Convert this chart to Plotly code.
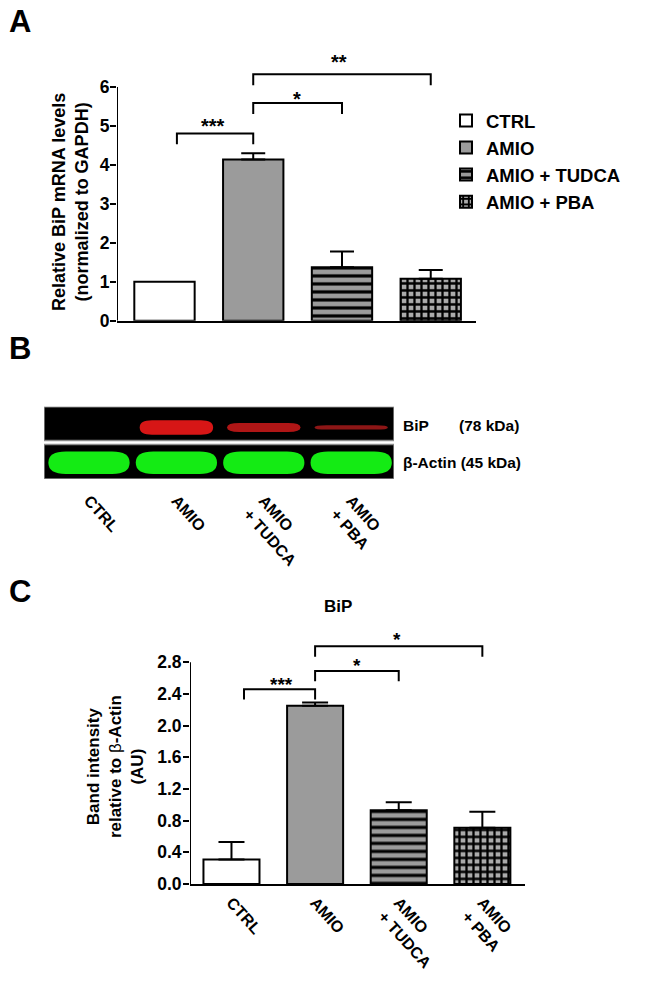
import plotly.graph_objects as go

# ---------------- data ----------------
groups = ["CTRL", "AMIO", "AMIO + TUDCA", "AMIO + PBA"]
tick_labels = ["CTRL", "AMIO", "AMIO<br>+ TUDCA", "AMIO<br>+ PBA"]
positions = [0, 1, 2, 3]

mrna_mean = [1.00, 4.14, 1.37, 1.08]
mrna_err = [0.00, 0.16, 0.41, 0.22]
mrna_yticks = [0, 1, 2, 3, 4, 5, 6]

band_mean = [0.31, 2.25, 0.93, 0.71]
band_err = [0.22, 0.04, 0.10, 0.20]
band_yticks = [0.0, 0.4, 0.8, 1.2, 1.6, 2.0, 2.4, 2.8]
band_yticktext = ["0.0", "0.4", "0.8", "1.2", "1.6", "2.0", "2.4", "2.8"]

# western blot band signal (relative)
bip_band = [0.0, 1.0, 0.62, 0.30]
actin_band = [1.0, 1.0, 1.0, 1.0]

# significance brackets: (from, to, bracket height, label x, label y, label)
mrna_sig = [(0.14, 1.0, 4.81, 0.55, 5.11, "***"),
            (1.0, 2.0, 5.59, 1.49, 5.80, "*"),
            (1.0, 3.0, 6.33, 1.97, 6.76, "**")]
band_sig = [(0.15, 1.0, 2.46, 0.60, 2.575, "***"),
            (1.0, 2.0, 2.69, 1.50, 2.81, "*"),
            (1.0, 3.0, 3.00, 1.98, 3.14, "*")]

# ---------------- styles ----------------
W, H = 656, 984
FONT = "Liberation Sans, Arial, sans-serif"
fills = ["white", "#9b9b9b", "#9b9b9b", "#ababab"]
pshapes = ["", "", "-", "+"]
psizes = [6, 6, 8, 7]
psolid = [0.3, 0.3, 0.4, 0.55]


def fx(px):
    return px / W


def fy(py):
    return 1 - py / H


fig = go.Figure()

# panel A bars
for i, g in enumerate(groups):
    fig.add_trace(go.Bar(
        x=[positions[i]], y=[mrna_mean[i]], name=g, width=0.68,
        xaxis="x", yaxis="y", legendgroup=g,
        marker=dict(color=fills[i], line=dict(color="black", width=2),
                    pattern=dict(shape=pshapes[i], fgcolor="black", bgcolor=fills[i],
                                 size=psizes[i], solidity=psolid[i], fillmode="replace")),
        error_y=dict(type="data", symmetric=False, array=[mrna_err[i]], arrayminus=[0],
                     color="black", thickness=2, width=12, visible=mrna_err[i] > 0),
        hoverinfo="skip",
    ))

# panel C bars
for i, g in enumerate(groups):
    fig.add_trace(go.Bar(
        x=[positions[i]], y=[band_mean[i]], name=g, width=0.67, showlegend=False,
        xaxis="x3", yaxis="y3",
        marker=dict(color=fills[i], line=dict(color="black", width=2),
                    pattern=dict(shape=pshapes[i], fgcolor="black", bgcolor=fills[i],
                                 size=psizes[i], solidity=psolid[i], fillmode="replace")),
        error_y=dict(type="data", symmetric=False, array=[band_err[i]], arrayminus=[0],
                     color="black", thickness=2, width=13),
        hoverinfo="skip",
    ))

annotations = []
shapes = []


def add_brackets(sig, leg, xa, ya, fsize):
    for (x0, x1, yt, lx, ly, lab) in sig:
        fig.add_trace(go.Scatter(
            x=[x0, x0, x1, x1], y=[yt - leg, yt, yt, yt - leg], mode="lines",
            line=dict(color="black", width=2), xaxis=xa, yaxis=ya,
            showlegend=False, hoverinfo="skip", cliponaxis=False))
        annotations.append(dict(x=lx, y=ly, xref=xa, yref=ya, text=lab,
                                showarrow=False, yanchor="middle", yshift=-0.23 * fsize,
                                font=dict(family=FONT, size=fsize, color="black", weight="bold")))


add_brackets(mrna_sig, 0.28, "x", "y", 20)
add_brackets(band_sig, 0.13, "x3", "y3", 19)

# ----- axes -----
a_xr = [-0.535, 3.51]
a_yr = [0, 6.8]
c_xr = [-0.496, 3.51]
c_yr = [0, 3.29]
b_xr = [-0.515, 3.49]
b_yr = [0, 2.0]

tickfont = dict(family=FONT, size=17.5, color="black", weight="bold")
lanefont = dict(family=FONT, size=16, color="black", weight="bold")

layout = dict(
    width=W, height=H, margin=dict(l=0, r=0, t=0, b=0),
    paper_bgcolor="white", plot_bgcolor="rgba(0,0,0,0)",
    barmode="overlay", font=dict(family=FONT, color="black"),
    xaxis=dict(domain=[fx(117), fx(476)], range=a_xr, showgrid=False, zeroline=False,
               showline=True, linecolor="black", linewidth=2, showticklabels=False,
               ticks="", anchor="y", fixedrange=True),
    yaxis=dict(domain=[fy(324), fy(56.5)], range=a_yr, showgrid=False, zeroline=False,
               showline=False, tickmode="array", tickvals=mrna_yticks, ticks="outside",
               ticklen=6, tickwidth=2, tickcolor="black", tickfont=tickfont,
               ticklabelstandoff=-3, anchor="x", fixedrange=True),
    xaxis2=dict(domain=[fx(44), fx(394)], range=b_xr, showgrid=False, zeroline=False,
                showline=False, tickmode="array", tickvals=positions, ticktext=tick_labels,
                tickangle=48, ticks="", tickfont=lanefont,
                ticklabelstandoff=8, anchor="y2", fixedrange=True),
    yaxis2=dict(domain=[fy(484), fy(411)], range=b_yr, visible=False, anchor="x2", fixedrange=True),
    xaxis3=dict(domain=[fx(190), fx(525)], range=c_xr, showgrid=False, zeroline=False,
                showline=True, linecolor="black", linewidth=2, tickmode="array",
                tickvals=positions, ticktext=tick_labels, tickangle=48, ticks="",
                tickfont=lanefont, ticklabelstandoff=1, anchor="y3", fixedrange=True),
    yaxis3=dict(domain=[fy(893), fy(629.8)], range=c_yr, showgrid=False, zeroline=False,
                showline=False, tickmode="array", tickvals=band_yticks, ticktext=band_yticktext,
                ticks="outside", ticklen=6, tickwidth=2, tickcolor="black", tickfont=tickfont,
                ticklabelstandoff=-2, anchor="x3", fixedrange=True),
    legend=dict(x=fx(446), y=fy(103), xanchor="left", yanchor="top",
                font=dict(family=FONT, size=18.5, color="black", weight="bold"),
                traceorder="grouped", tracegroupgap=0, itemwidth=30, bgcolor="rgba(0,0,0,0)"),
    showlegend=True,
)

# y axis lines stopping at top tick
shapes.append(dict(type="line", xref="x", yref="y", x0=a_xr[0], x1=a_xr[0], y0=0, y1=mrna_yticks[-1],
                   line=dict(color="black", width=2)))
shapes.append(dict(type="line", xref="x3", yref="y3", x0=c_xr[0], x1=c_xr[0], y0=0, y1=band_yticks[-1],
                   line=dict(color="black", width=2)))

# ----- western blot (panel B) -----
strip_actin = (0.0, 0.96)
strip_bip = (1.07, 2.0)
for (y0, y1) in (strip_bip, strip_actin):
    shapes.append(dict(type="rect", xref="x2", yref="y2", x0=b_xr[0], x1=b_xr[1], y0=y0, y1=y1,
                       fillcolor="black", line=dict(color="#8a8a8a", width=1.5), layer="below"))


def pill(cx, cy, w, h, rx):
    x0, x1 = cx - w / 2, cx + w / 2
    y0, y1 = cy - h / 2, cy + h / 2
    return (f"M{x0 + rx},{y0} L{x1 - rx},{y0} Q{x1},{y0} {x1},{cy} Q{x1},{y1} {x1 - rx},{y1} "
            f"L{x0 + rx},{y1} Q{x0},{y1} {x0},{cy} Q{x0},{y0} {x0 + rx},{y0} Z")


for i, s in enumerate(actin_band):
    if s > 0:
        g = int(235 * s)
        shapes.append(dict(type="path", xref="x2", yref="y2",
                           path=pill(positions[i], 0.45, 0.93, 0.62 * s, 0.2),
                           fillcolor=f"rgb(20,{g},20)", line=dict(width=0)))
for i, s in enumerate(bip_band):
    if s > 0:
        r = int(110 + 105 * s)
        shapes.append(dict(type="path", xref="x2", yref="y2",
                           path=pill(positions[i], 1.43, 0.84, 0.40 * s, 0.14),
                           fillcolor=f"rgb({r},22,22)", line=dict(width=0)))

blot_font = dict(family=FONT, size=15.5, color="black", weight="bold")
annotations += [
    dict(x=fx(401), y=fy(430), xref="paper", yref="paper", text="BiP", showarrow=False,
         xanchor="left", yanchor="middle", font=blot_font),
    dict(x=fx(521), y=fy(430), xref="paper", yref="paper", text="(78 kDa)", showarrow=False,
         xanchor="right", yanchor="middle", font=blot_font),
    dict(x=fx(401), y=fy(467), xref="paper", yref="paper", text="β-Actin (45 kDa)", showarrow=False,
         xanchor="left", yanchor="middle", font=blot_font),
]

# ----- titles and panel letters -----
letter_font = dict(family=FONT, size=31, color="black", weight="bold")
for lab, py in (("A", 22), ("B", 352), ("C", 598)):
    annotations.append(dict(x=fx(7), y=fy(py), xref="paper", yref="paper", text=lab,
                            showarrow=False, xanchor="left", yanchor="middle", font=letter_font))

annotations.append(dict(x=fx(71), y=fy(204), xref="paper", yref="paper",
                        text="Relative BiP mRNA levels<br>(normalized to GAPDH)", textangle=-90,
                        showarrow=False, xanchor="center", yanchor="middle",
                        font=dict(family=FONT, size=18, color="black", weight="bold")))
annotations.append(dict(x=fx(115), y=fy(775), xref="paper", yref="paper",
                        text="Band intensity<br>relative to <span style='font-weight:normal'>β</span>-Actin<br>(AU)",
                        textangle=-90, showarrow=False, xanchor="center", yanchor="middle",
                        font=dict(family=FONT, size=17, color="black", weight="bold")))
annotations.append(dict(x=fx(338), y=fy(613), xref="paper", yref="paper", text="BiP",
                        showarrow=False, xanchor="center", yanchor="middle",
                        font=dict(family=FONT, size=17, color="black", weight="bold")))

layout["annotations"] = annotations
layout["shapes"] = shapes
fig.update_layout(**layout)
fig.write_html("out.html", config={"displayModeBar": False},
               post_script="document.body.style.margin='0';")
